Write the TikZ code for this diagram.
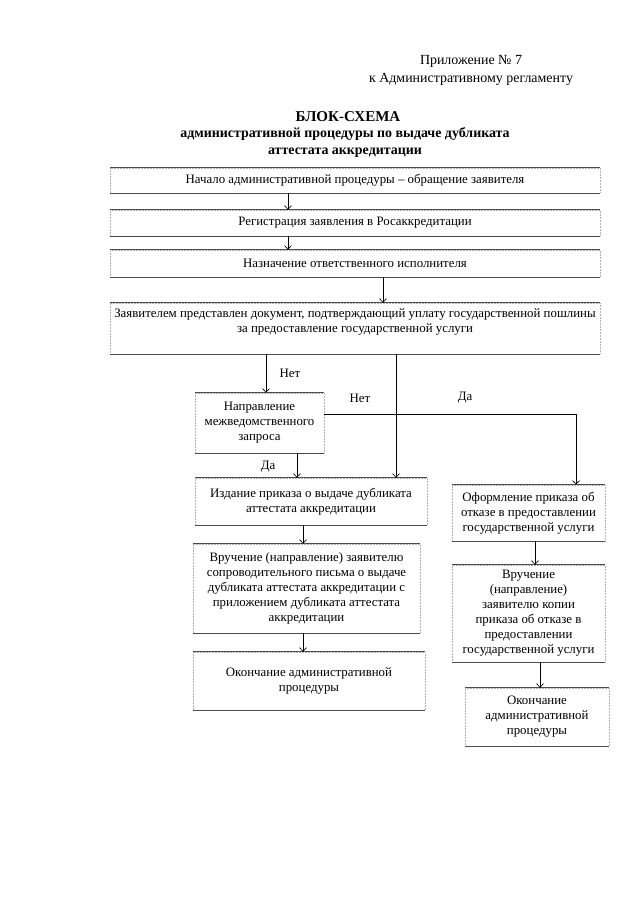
\documentclass[tikz,border=0pt]{standalone}
\usepackage{fontspec}
\setmainfont{Liberation Serif}
\usetikzlibrary{arrows.meta,positioning}

\begin{document}
\begin{tikzpicture}[
  x=0.0328cm, y=-0.0328cm,
  box/.style={draw=black!30, densely dotted, align=center,
    font=\fontsize{12}{14}\selectfont, inner sep=1pt},
  edge/.style={black!70, line width=1.1pt},
  arr/.style={-{Straight Barb[length=3.5pt,width=6.5pt]}, line width=0.6pt},
  lbl/.style={font=\fontsize{12}{14}\selectfont}
]
  \useasboundingbox (0,0) rectangle (640,905);

  % heading
  \node[font=\fontsize{13}{16}\selectfont, align=center] (annex) at (471,70.5)
    {Приложение № 7\\к Административному регламенту};
  \node[font=\fontsize{14}{16}\selectfont\bfseries] (title) at (348,117)
    {БЛОК-СХЕМА};
  \node[font=\fontsize{13}{16.5}\selectfont\bfseries, align=center] (subtitle)
    at (345,142.5)
    {административной процедуры по выдаче дубликата\\аттестата аккредитации};

  % boxes
  \node[box, minimum width=16.07cm, minimum height=0.82cm] (start) at (355,180.5)
    {Начало административной процедуры – обращение заявителя};
  \node[box, minimum width=16.07cm, minimum height=0.85cm] (reg) at (355,223)
    {Регистрация заявления в Росаккредитации};
  \node[box, minimum width=16.07cm, minimum height=0.89cm] (assign) at (355,263.5)
    {Назначение ответственного исполнителя};
  \node[box, minimum width=16.07cm, minimum height=1.67cm, text depth=15pt]
    (check) at (355,328.5)
    {Заявителем представлен документ, подтверждающий уплату государственной пошлины\\
     за предоставление государственной услуги};
  \node[box, minimum width=4.23cm, minimum height=1.97cm] (query) at (259.5,423)
    {Направление\\межведомственного\\запроса};
  \node[box, minimum width=7.61cm, minimum height=1.54cm] (issue) at (311,501.5)
    {Издание приказа о выдаче дубликата\\аттестата аккредитации};
  \node[box, minimum width=7.45cm, minimum height=2.92cm] (deliver) at (306.5,588.5)
    {Вручение (направление) заявителю\\сопроводительного письма о выдаче\\
     дубликата аттестата аккредитации с\\приложением дубликата аттестата\\
     аккредитации};
  \node[box, minimum width=7.61cm, minimum height=1.90cm] (endL) at (309,681)
    {Окончание административной\\процедуры};
  \node[box, minimum width=5.02cm, minimum height=1.84cm] (refuse) at (528.5,513)
    {Оформление приказа об\\отказе в предоставлении\\государственной услуги};
  \node[box, minimum width=5.02cm, minimum height=3.18cm] (deliverR) at (528.5,613.5)
    {Вручение\\(направление)\\заявителю копии\\приказа об отказе в\\
     предоставлении\\государственной услуги};
  \node[box, minimum width=4.72cm, minimum height=1.90cm] (endR) at (537,717)
    {Окончание\\административной\\процедуры};

  \foreach \n in {start,reg,assign,check,query,issue,deliver,endL,refuse,deliverR,endR}
    \draw[edge] (\n.north west) -- (\n.north east) (\n.south west) -- (\n.south east);

  % connectors
  \draw[arr] (start.south -| 288,0) -- (reg.north -| 288,0);
  \draw[arr] (reg.south -| 288,0) -- (assign.north -| 288,0);
  \draw[arr] (assign.south -| 383,0) -- (check.north -| 383,0);
  \draw[arr] (check.south -| 266,0) -- (query.north -| 266,0);
  \draw[arr] (check.south -| 396,0) -- (issue.north -| 396,0);
  \draw[arr] (query.east |- 0,414) -| (refuse.north -| 576,0);
  \draw[arr] (query.south -| 297,0) -- (issue.north -| 297,0);
  \draw[arr] (issue.south -| 303,0) -- (deliver.north -| 303,0);
  \draw[arr] (deliver.south -| 303,0) -- (endL.north -| 303,0);
  \draw[arr] (refuse.south -| 535,0) -- (deliverR.north -| 535,0);
  \draw[arr] (deliverR.south -| 540,0) -- (endR.north -| 540,0);

  % labels
  \node[lbl] (no1) at (290,373) {Нет};
  \node[lbl] (no2) at (360,398) {Нет};
  \node[lbl] (yes1) at (465,398) {Да};
  \node[lbl] (yes2) at (268,467) {Да};
\end{tikzpicture}
\end{document}
